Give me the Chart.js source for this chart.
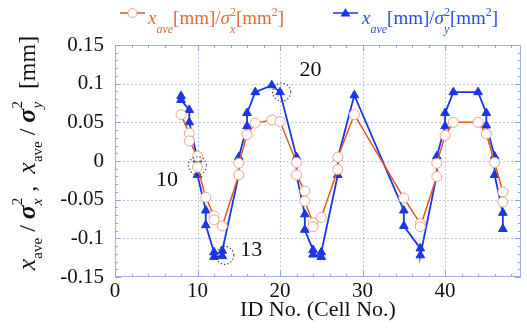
<!DOCTYPE html>
<html><head><meta charset="utf-8">
<script src="https://cdn.jsdelivr.net/npm/chart.js@4.4.1/dist/chart.umd.min.js"></script>
<style>html,body{margin:0;padding:0;background:#fff;}</style>
</head><body>
<canvas id="c" width="527" height="332"></canvas>
<script>
// ---- data ----
const idSigmaX  = [8, 9, 9, 10, 10, 11, 12, 12, 13, 15, 15, 16, 17, 19, 20, 22, 22, 23, 23, 24, 24, 25, 27, 27, 29, 35, 37, 37, 39, 39, 40, 41, 44, 45, 46, 47, 47];
const valSigmaX = [0.060, 0.036, 0.026, 0.006, -0.008, -0.047, -0.071, -0.076, -0.084, -0.018, -0.003, 0.034, 0.049, 0.053, 0.051, -0.002, -0.018, -0.039, -0.052, -0.080, -0.085, -0.073, -0.011, 0.005, 0.060, -0.048, -0.081, -0.085, -0.020, -0.003, 0.033, 0.050, 0.050, 0.035, -0.002, -0.040, -0.053];
const idSigmaY  = [8, 8, 9, 9, 10, 10, 11, 11, 12, 12, 13, 13, 15, 15, 16, 16, 17, 19, 20, 22, 22, 23, 23, 24, 24, 25, 25, 27, 27, 29, 35, 35, 37, 37, 39, 39, 40, 40, 41, 44, 45, 45, 46, 46, 47, 47];
const valSigmaY = [0.084, 0.079, 0.066, 0.050, 0.002, -0.018, -0.064, -0.083, -0.118, -0.124, -0.123, -0.116, -0.018, 0.005, 0.045, 0.062, 0.089, 0.098, 0.089, 0.005, -0.018, -0.069, -0.089, -0.115, -0.121, -0.124, -0.118, -0.018, 0.004, 0.085, -0.064, -0.084, -0.113, -0.122, -0.018, 0.006, 0.045, 0.062, 0.089, 0.089, 0.062, 0.046, 0.006, -0.018, -0.067, -0.088];
const xTickValues = [0, 10, 20, 30, 40];
const yTickValues = [-0.15, -0.1, -0.05, 0, 0.05, 0.1, 0.15];
const xAxisTitle = 'ID No. (Cell No.)';
const noteLabels = ['10', '13', '20'];
const noteLabelX = [6.3, 16.5, 23.7];
const noteLabelY = [-0.025, -0.116, 0.117];
const noteCircleX = [10, 13.3, 20.2];
const noteCircleY = [-0.006, -0.122, 0.089];

const RED = '#e2561f', RED_MK = '#f2a488', RED_TXT = '#e8683a';
const BLUE = '#1a36e6', BLUE_TXT = '#2a4ee8';
const SERIF = '"Liberation Serif", "DejaVu Serif", serif';

function pts(xs, ys) { return xs.map((x, i) => ({x, y: ys[i]})); }

function fontStr(p) { return (p.i ? 'italic ' : '') + (p.b ? 'bold ' : '') + p.s + 'px ' + SERIF; }
function rich(ctx, parts, x, y, draw) {
  let cx = x;
  for (const p of parts) {
    const items = p.stack ? p.stack : [p];
    let w = 0;
    for (const s of items) {
      ctx.font = fontStr(s);
      if (draw) ctx.fillText(s.t, cx, y + (s.dy || 0));
      w = Math.max(w, ctx.measureText(s.t).width);
    }
    cx += w;
  }
  return cx - x;
}

function legendParts(sub) {
  return [
    {t: 'x', i: 1, s: 19}, {t: 'ave', i: 1, s: 12, dy: 9}, {t: '[mm]/', s: 19},
    {t: 'σ', i: 1, s: 19}, {stack: [{t: '2', s: 12, dy: -8}, {t: sub, i: 1, s: 12, dy: 9}]},
    {t: '[mm', s: 19}, {t: '2', s: 12, dy: -8}, {t: ']', s: 19}
  ];
}
const yTitleParts = [
  {t: 'x', i: 1, s: 26}, {t: 'ave', s: 15, dy: 7}, {t: ' / ', s: 24},
  {t: 'σ', i: 1, b: 1, s: 26}, {stack: [{t: '2', s: 15, dy: -13}, {t: 'x', i: 1, s: 15, dy: 7}]},
  {t: ' ,  ', s: 24},
  {t: 'x', i: 1, s: 26}, {t: 'ave', s: 15, dy: 7}, {t: ' / ', s: 24},
  {t: 'σ', i: 1, b: 1, s: 26}, {stack: [{t: '2', s: 15, dy: -13}, {t: 'y', i: 1, s: 15, dy: 7}]},
  {t: '  [mm]', s: 24}
];

const decor = {
  id: 'decor',
  beforeDatasetsDraw(chart) {
    const {ctx, chartArea: a, scales: {x, y}} = chart;
    ctx.save();
    ctx.strokeStyle = 'rgba(140,160,240,0.6)';
    ctx.lineWidth = 1;
    ctx.setLineDash([2, 2]);
    xTickValues.forEach(v => { if (v <= x.min) return; const px = Math.round(x.getPixelForValue(v)) + 0.5; ctx.beginPath(); ctx.moveTo(px, a.top); ctx.lineTo(px, a.bottom); ctx.stroke(); });
    yTickValues.forEach(v => { if (v <= y.min || v >= y.max) return; const py = Math.round(y.getPixelForValue(v)) + 0.5; ctx.beginPath(); ctx.moveTo(a.left, py); ctx.lineTo(a.right, py); ctx.stroke(); });
    ctx.setLineDash([]);
    ctx.strokeStyle = '#9fb0f2';
    ctx.strokeRect(a.left + 0.5, a.top + 0.5, a.right - a.left - 1, a.bottom - a.top - 1);
    ctx.strokeStyle = '#8ea0ee';
    for (let v = 0; v <= x.max; v += 2) {
      const px = Math.round(x.getPixelForValue(v)) + 0.5;
      const L = (v % 10 === 0) ? 6 : 3;
      ctx.beginPath(); ctx.moveTo(px, a.bottom); ctx.lineTo(px, a.bottom - L);
      ctx.moveTo(px, a.top); ctx.lineTo(px, a.top + L); ctx.stroke();
    }
    for (let k = -15; k <= 15; k++) {
      const py = Math.round(y.getPixelForValue(k / 100)) + 0.5;
      const L = (k % 5 === 0) ? 6 : 3;
      ctx.beginPath(); ctx.moveTo(a.left, py); ctx.lineTo(a.left + L, py);
      ctx.moveTo(a.right, py); ctx.lineTo(a.right - L, py); ctx.stroke();
    }
    ctx.restore();
  },
  afterDraw(chart) {
    const {ctx, scales: {x, y}} = chart;
    ctx.save();
    ctx.fillStyle = '#111';
    ctx.font = '22px ' + SERIF;
    ctx.textAlign = 'center'; ctx.textBaseline = 'middle';
    noteLabels.forEach((t, i) => ctx.fillText(t, x.getPixelForValue(noteLabelX[i]), y.getPixelForValue(noteLabelY[i])));
    ctx.strokeStyle = '#333'; ctx.lineWidth = 1.2; ctx.setLineDash([1.2, 2.2]);
    noteCircleX.forEach((cx, i) => { ctx.beginPath(); ctx.arc(x.getPixelForValue(cx), y.getPixelForValue(noteCircleY[i]), 9, 0, Math.PI * 2); ctx.stroke(); });
    ctx.setLineDash([]);
    // legend
    ctx.textAlign = 'left'; ctx.textBaseline = 'alphabetic';
    const ly = 13;
    ctx.strokeStyle = RED; ctx.lineWidth = 1.5;
    ctx.beginPath(); ctx.moveTo(120, ly); ctx.lineTo(145, ly); ctx.stroke();
    ctx.fillStyle = '#fff'; ctx.strokeStyle = RED_MK; ctx.lineWidth = 1;
    ctx.beginPath(); ctx.arc(132.5, ly, 4.5, 0, Math.PI * 2); ctx.fill(); ctx.stroke();
    ctx.fillStyle = RED_TXT;
    rich(ctx, legendParts('x'), 148, 24, true);
    ctx.strokeStyle = BLUE; ctx.lineWidth = 1.5;
    ctx.beginPath(); ctx.moveTo(333, ly); ctx.lineTo(358, ly); ctx.stroke();
    ctx.fillStyle = BLUE;
    ctx.beginPath(); ctx.moveTo(345.5, ly - 5); ctx.lineTo(350.5, ly + 3.5); ctx.lineTo(340.5, ly + 3.5); ctx.closePath(); ctx.fill();
    ctx.fillStyle = BLUE_TXT;
    rich(ctx, legendParts('y'), 362, 24, true);
    // y title (rotated)
    ctx.fillStyle = '#111';
    const W = rich(ctx, yTitleParts, 0, 0, false);
    ctx.translate(35, 153 + W / 2);
    ctx.rotate(-Math.PI / 2);
    rich(ctx, yTitleParts, 0, 0, true);
    ctx.restore();
  }
};

new Chart(document.getElementById('c'), {
  type: 'scatter',
  data: {
    datasets: [
      {label: 'x_ave[mm]/σx²[mm²]', data: pts(idSigmaX, valSigmaX), showLine: true, borderColor: RED, borderWidth: 1.5,
       pointStyle: 'circle', pointRadius: 5, pointBackgroundColor: '#fff', pointBorderColor: RED_MK, pointBorderWidth: 1},
      {label: 'x_ave[mm]/σy²[mm²]', data: pts(idSigmaY, valSigmaY), showLine: true, borderColor: BLUE, borderWidth: 1.8,
       pointStyle: 'triangle', pointRadius: 5, pointBackgroundColor: BLUE, pointBorderColor: BLUE, pointBorderWidth: 1}
    ]
  },
  options: {
    responsive: false, animation: false,
    layout: {padding: {top: 45, right: 0, left: 0, bottom: 0}},
    plugins: {legend: {display: false}, tooltip: {enabled: false}},
    scales: {
      x: {
        type: 'linear', min: 0, max: 49.2,
        afterFit(s) { s.height = 55; },
        afterBuildTicks(s) { s.ticks = xTickValues.map(v => ({value: v})); },
        ticks: {font: {family: SERIF, size: 21}, color: '#111', padding: 2, maxRotation: 0, autoSkip: false},
        grid: {display: false, drawTicks: false},
        border: {display: false},
        title: {display: true, text: xAxisTitle, font: {family: SERIF, size: 22}, color: '#111', padding: {top: 0, bottom: 9}}
      },
      y: {
        min: -0.15, max: 0.15,
        afterFit(s) { s.width = 115; },
        afterBuildTicks(s) { s.ticks = yTickValues.map(v => ({value: v})); },
        ticks: {font: {family: SERIF, size: 21}, color: '#111', padding: 11,
          callback: v => String(Number(Number(v).toFixed(2)))},
        grid: {display: false, drawTicks: false},
        border: {display: false}
      }
    }
  },
  plugins: [decor]
});
</script>
</body></html>
